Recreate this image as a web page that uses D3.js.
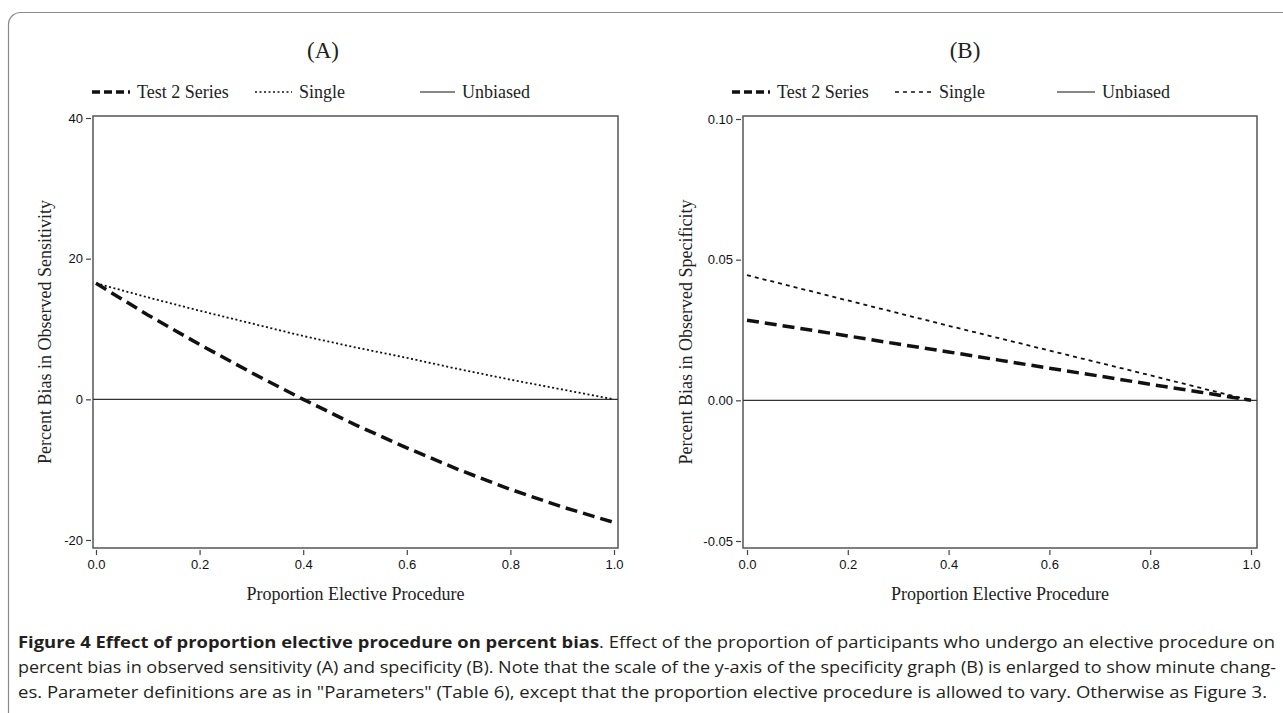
<!DOCTYPE html>
<html>
<head>
<meta charset="utf-8">
<script src="https://cdn.jsdelivr.net/npm/d3@7"></script>
<style>
  body { margin: 0; background: #fff; }
  svg { display: block; }
</style>
</head>
<body>
<svg width="1283" height="713"></svg>
<script>
// proportion elective procedure
var props = [0, 0.1, 0.2, 0.3, 0.4, 0.5, 0.6, 0.7, 0.8, 0.9, 1.0];

// (A) percent bias in observed sensitivity
var sensTest2 = [16.5, 12.0, 7.8, 3.8, 0.0, -3.6, -6.9, -10.0, -12.8, -15.3, -17.5];
var sensSingle = [16.5, 14.5, 12.6, 10.8, 9.0, 7.4, 5.9, 4.3, 2.8, 1.4, 0.0];

// (B) percent bias in observed specificity
var specTest2 = [0.0285, 0.0257, 0.0229, 0.0200, 0.0172, 0.0143, 0.0114, 0.0086, 0.0057, 0.0029, 0.0];
var specSingle = [0.0445, 0.0400, 0.0355, 0.0310, 0.0265, 0.0221, 0.0177, 0.0133, 0.0089, 0.0044, 0.0];

var xTicks = [0, 0.2, 0.4, 0.6, 0.8, 1.0];
var sensTicks = [-20, 0, 20, 40];
var specTicks = [-0.05, 0.0, 0.05, 0.10];

var legendLabels = ["Test 2 Series", "Single", "Unbiased"];

var svg = d3.select("svg");

// outer rounded frame
svg.append("rect")
  .attr("x", 8.5).attr("y", 12.5)
  .attr("width", 1300).attr("height", 730)
  .attr("rx", 12)
  .attr("fill", "none").attr("stroke", "#8a8a8a").attr("stroke-width", 1.2);

var serif = "'Liberation Serif', 'DejaVu Serif', serif";
var sans = "'Liberation Sans', Arial, sans-serif";

// plain hyphen for negatives, like the original
function hyph(f) { return function(d) { return f(d).replace("\u2212", "-"); }; }

function panel(opt) {
  var g = svg.append("g");
  var x = d3.scaleLinear().domain([0, 1]).range([opt.x0, opt.x1]);
  var y = d3.scaleLinear().domain(opt.ydom).range([opt.yb, opt.yt]);

  // title
  g.append("text").attr("x", opt.tx).attr("y", 58)
    .attr("text-anchor", "middle")
    .style("font-family", serif).style("font-size", "23px").attr("fill", "#222")
    .text(opt.title);

  // legend
  var styles = [
    {w: 3.5, dash: "8,4"},
    {w: 1.6, dash: opt.singleDash},
    {w: 1, dash: null}
  ];
  opt.legend.forEach(function(l, i) {
    g.append("line").attr("x1", l[0]).attr("x2", l[1]).attr("y1", 92).attr("y2", 92)
      .attr("stroke", "#111").attr("stroke-width", styles[i].w)
      .attr("stroke-dasharray", styles[i].dash);
    g.append("text").attr("x", l[1] + 7).attr("y", 98)
      .style("font-family", serif).style("font-size", "18px").attr("fill", "#222")
      .text(legendLabels[i]);
  });

  // plot box
  g.append("rect").attr("x", opt.bx0).attr("y", opt.by0)
    .attr("width", opt.bx1 - opt.bx0).attr("height", opt.by1 - opt.by0)
    .attr("fill", "none").attr("stroke", "#555").attr("stroke-width", 1.5);

  // x axis
  var xa = g.append("g").attr("transform", "translate(0," + (opt.by1 + 2) + ")")
    .call(d3.axisBottom(x).tickValues(xTicks).tickFormat(d3.format(".1f")).tickSize(5).tickPadding(5));
  xa.select(".domain").remove();
  xa.selectAll("line").attr("stroke", "#444").attr("stroke-width", 1.2);
  xa.selectAll("text").style("font-family", sans).style("font-size", "13px").attr("fill", "#111");

  // y axis
  var ya = g.append("g").attr("transform", "translate(" + (opt.bx0 - 2) + ",0)")
    .call(d3.axisLeft(y).tickValues(opt.yticks).tickFormat(hyph(opt.yfmt)).tickSize(5).tickPadding(3));
  ya.select(".domain").remove();
  ya.selectAll("line").attr("stroke", "#444").attr("stroke-width", 1.2);
  ya.selectAll("text").style("font-family", sans).style("font-size", "13px").attr("fill", "#111");

  // axis labels
  g.append("text").attr("x", (opt.bx0 + opt.bx1) / 2).attr("y", 600)
    .attr("text-anchor", "middle")
    .style("font-family", serif).style("font-size", "18px").attr("fill", "#222")
    .text("Proportion Elective Procedure");
  g.append("text")
    .attr("transform", "translate(" + opt.ylx + "," + (opt.by0 + opt.by1) / 2 + ") rotate(-90)")
    .attr("text-anchor", "middle")
    .style("font-family", serif).style("font-size", "18px").attr("fill", "#222")
    .text(opt.ylabel);

  // unbiased reference
  g.append("line").attr("x1", opt.bx0).attr("x2", opt.bx1)
    .attr("y1", y(0)).attr("y2", y(0))
    .attr("stroke", "#333").attr("stroke-width", 1.1);

  var line = d3.line().x(function(d, i) { return x(props[i]); }).y(function(d) { return y(d); });

  g.append("path").datum(opt.single).attr("d", line)
    .attr("fill", "none").attr("stroke", "#111").attr("stroke-width", 1.8)
    .attr("stroke-dasharray", opt.singleDash);
  g.append("path").datum(opt.test2).attr("d", line)
    .attr("fill", "none").attr("stroke", "#111").attr("stroke-width", 3.5)
    .attr("stroke-dasharray", "12,6");
}

panel({
  title: "(A)", tx: 323,
  x0: 96, x1: 614, bx0: 93, bx1: 618, by0: 116, by1: 548,
  ydom: [-20, 40], yb: 540, yt: 118, yticks: sensTicks, yfmt: d3.format("d"),
  ylabel: "Percent Bias in Observed Sensitivity", ylx: 51,
  legend: [[92, 130], [255, 292], [420, 455]],
  singleDash: "2,2.5",
  test2: sensTest2, single: sensSingle
});

panel({
  title: "(B)", tx: 965,
  x0: 747, x1: 1251, bx0: 743, bx1: 1257, by0: 116, by1: 548,
  ydom: [-0.05, 0.10], yb: 541, yt: 119, yticks: specTicks, yfmt: d3.format(".2f"),
  ylabel: "Percent Bias in Observed Specificity", ylx: 692,
  legend: [[732, 770], [895, 932], [1057, 1095]],
  singleDash: "4,4",
  test2: specTest2, single: specSingle
});

// caption
var capFont = "'Open Sans', 'Noto Sans', sans-serif";
var cap1 = svg.append("text").attr("x", 18).attr("y", 648)
  .attr("textLength", 1257).attr("lengthAdjust", "spacingAndGlyphs")
  .style("font-family", capFont).style("font-size", "16.5px").attr("fill", "#231f20");
cap1.append("tspan").style("font-weight", "bold").text("Figure 4 Effect of proportion elective procedure on percent bias");
cap1.append("tspan").text(". Effect of the proportion of participants who undergo an elective procedure on");

svg.append("text").attr("x", 18).attr("y", 673)
  .attr("textLength", 1258).attr("lengthAdjust", "spacingAndGlyphs")
  .style("font-family", capFont).style("font-size", "16.5px").attr("fill", "#231f20")
  .text("percent bias in observed sensitivity (A) and specificity (B). Note that the scale of the y-axis of the specificity graph (B) is enlarged to show minute chang-");

svg.append("text").attr("x", 18).attr("y", 698)
  .attr("textLength", 1249).attr("lengthAdjust", "spacingAndGlyphs")
  .style("font-family", capFont).style("font-size", "16.5px").attr("fill", "#231f20")
  .text("es. Parameter definitions are as in \"Parameters\" (Table 6), except that the proportion elective procedure is allowed to vary. Otherwise as Figure 3.");
</script>
</body>
</html>
